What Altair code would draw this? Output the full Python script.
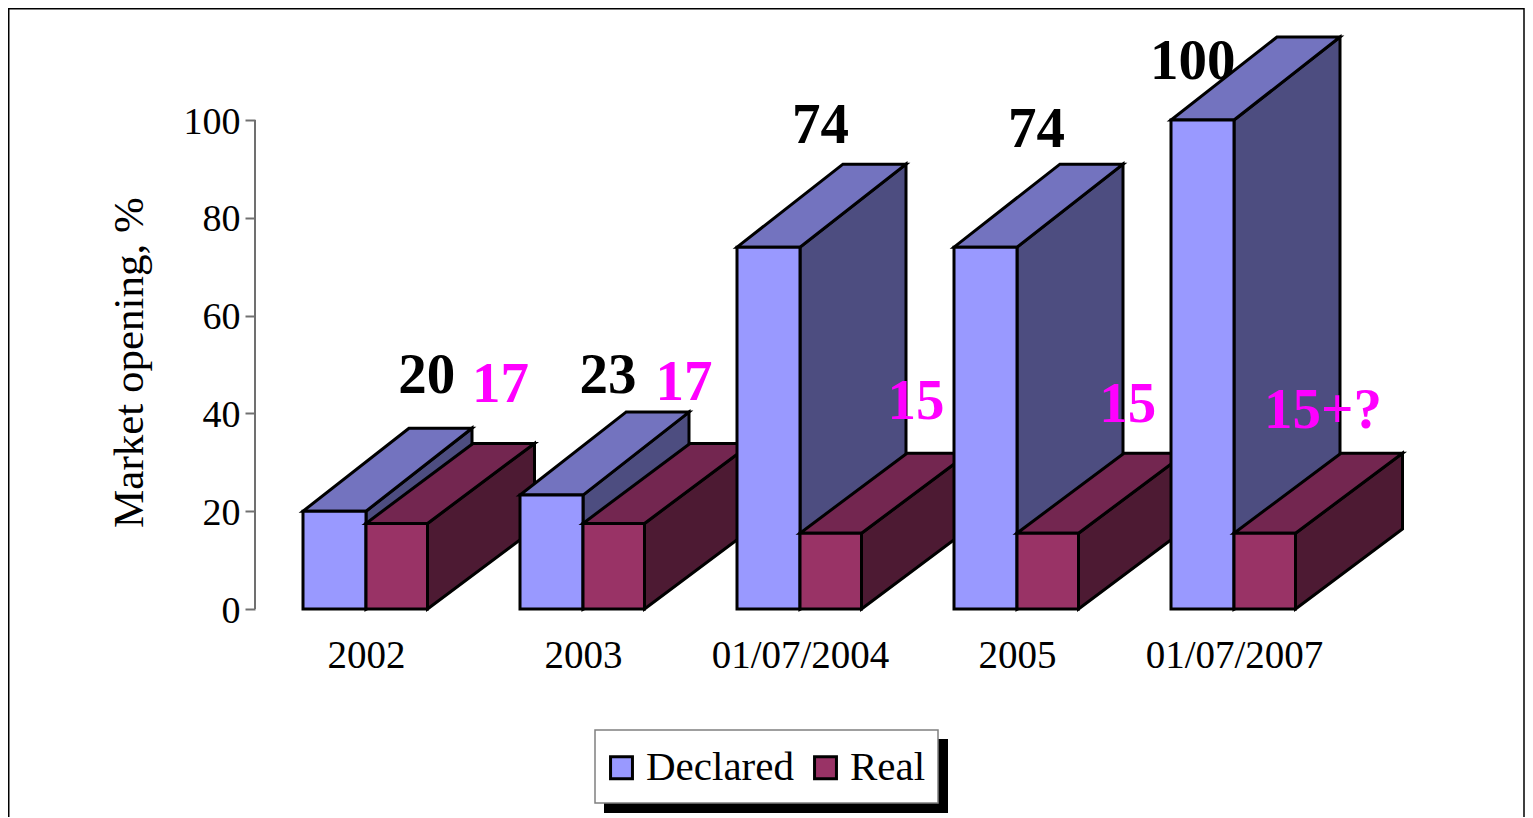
import altair as alt
import pandas as pd

# ---- data
categories = ["2002", "2003", "01/07/2004", "2005", "01/07/2007"]
declared = [20, 23.3, 74, 74, 100]
real = [17.5, 17.5, 15.5, 15.5, 15.5]
declared_labels = ["20", "23", "74", "74", "100"]
real_labels = ["17", "17", "15", "15", "15+?"]
y_ticks = [0, 20, 40, 60, 80, 100]

# ---- label placement (category units from the category centre / value units)
declared_label_dx = [0.28, 0.115, 0.095, 0.09, -0.19]
declared_label_y = [47.6, 47.6, 98.8, 98.0, 111.9]
real_label_dx = [0.62, 0.465, 0.535, 0.51, 0.41]
real_label_y = [45.8, 46.2, 42.3, 41.7, 40.5]

# ---- geometry of the 3-D look, in scale units
BAR_W = {"Declared": 63 / 217, "Real": 61.5 / 217}
DEPTH_X = {"Declared": 106 / 217, "Real": 107 / 217}
DEPTH_Y = {"Declared": 83 / 4.89, "Real": 80 / 4.89}

# ---- layout
PAD_L, PAD_T, W, H = 247, 22, 1155, 579
TOTAL_W, TOTAL_H = 1517, 809
PX_PER_CAT, PX_PER_VAL = 217, 4.89
FONT = "Liberation Serif"

FILL = {"Declared": ("#9999FF", "#4D4D80", "#7373BF"),
        "Real": ("#993366", "#4D1A33", "#732650")}

xscale = alt.Scale(domain=[-111 / PX_PER_CAT, (W - 111) / PX_PER_CAT], nice=False, zero=False)
yscale = alt.Scale(domain=[0, H / PX_PER_VAL], nice=False, zero=False)
color = alt.Color(
    "series:N",
    scale=alt.Scale(domain=["Declared", "Real"], range=[FILL["Declared"][0], FILL["Real"][0]]),
    legend=alt.Legend(
        title=None, orient="none", direction="horizontal", columns=2,
        legendX=331, legendY=702, padding=15,
        symbolType="square", symbolSize=480, symbolStrokeColor="black", symbolStrokeWidth=3,
        symbolOpacity=1,
        labelFont=FONT, labelFontSize=41, labelColor="black", labelOffset=4,
        columnPadding=11, labelLimit=300,
    ),
)

x_axis = alt.Axis(
    values=list(range(len(categories))),
    labelExpr="[" + ",".join(f"'{c}'" for c in categories) + "][datum.value]",
    title=None, domain=False, ticks=False, grid=False,
    labelFont=FONT, labelFontSize=39, labelColor="black",
    labelPadding=46, labelBaseline="middle", labelOverlap=False, labelFlush=False,
    labelAngle=0,
)
y_axis = alt.Axis(
    values=y_ticks, title="Market opening, %", domain=False, grid=False,
    tickSize=10, tickColor="#707070", tickWidth=2,
    labelFont=FONT, labelFontSize=38, labelColor="black", labelPadding=5, labelFlush=False,
    labelOverlap=False, labelOffset=2,
    titleFont=FONT, titleFontSize=43, titleFontWeight="normal", titleColor="black",
    titleX=-104, titleY=332,
)


def X(field="x"):
    return alt.X(f"{field}:Q", scale=xscale, axis=x_axis)


def Y(field="y"):
    return alt.Y(f"{field}:Q", scale=yscale, axis=y_axis)


def bar_layers(i, value, series):
    front, side, top = FILL[series]
    width = BAR_W[series]
    left = i - width if series == "Declared" else i
    right = left + width
    dx, dy = DEPTH_X[series], DEPTH_Y[series]
    side_df = pd.DataFrame({"x": [right, right + dx],
                            "y": [0, dy],
                            "y2": [value, value + dy]})
    top_df = pd.DataFrame({"x": [left, left + dx],
                           "x2": [right, right + dx],
                           "y": [value, value + dy]})
    front_df = pd.DataFrame({"x": [left], "x2": [right], "y": [0], "y2": [value], "series": [series]})
    style = dict(stroke="black", strokeWidth=3, strokeJoin="miter", opacity=1)
    return [
        alt.Chart(side_df).mark_area(color=side, interpolate="linear", **style).encode(
            x=X(), y=Y(), y2="y2:Q"),
        alt.Chart(top_df).mark_area(color=top, orient="horizontal", interpolate="linear", **style).encode(
            y=Y(), x=X(), x2="x2:Q"),
        alt.Chart(front_df).mark_rect(**style).encode(
            x=X(), x2="x2:Q", y=Y(), y2="y2:Q", color=color),
    ]


axis_df = pd.DataFrame({"x": [0.0], "y": [0], "y2": [100]})
frame = alt.Chart(axis_df).mark_rect(filled=False, stroke="black", strokeWidth=1.5).encode(
    x=alt.value(-PAD_L + 0.75), x2=alt.value(TOTAL_W - PAD_L - 1),
    y=alt.value(-PAD_T + 0.75), y2=alt.value(H + 400),
)
axis_line = alt.Chart(axis_df).mark_rule(color="#707070", strokeWidth=2).encode(
    x=alt.value(0),
    y=Y(),
    y2="y2:Q",
)
shadow = alt.Chart(axis_df).mark_rect(color="black").encode(
    x=alt.value(604 - 255), x2=alt.value(948 - 255),
    y=alt.value(739 - 30), y2=alt.value(813 - 30),
)
legend_box = alt.Chart(axis_df).mark_rect(color="white", stroke="#808080", strokeWidth=1.5).encode(
    x=alt.value(595 - 255), x2=alt.value(938 - 255),
    y=alt.value(730 - 30), y2=alt.value(803 - 30),
)


def label_layer(texts, dxs, ys, colour):
    df = pd.DataFrame({
        "x": [i + d for i, d in enumerate(dxs)],
        "y": ys,
        "t": texts,
    })
    return alt.Chart(df).mark_text(
        font=FONT, fontSize=57, fontWeight="bold", color=colour, baseline="middle", align="center"
    ).encode(x=X(), y=Y(), text="t:N")


layers = [frame, axis_line, label_layer(declared_labels, declared_label_dx, declared_label_y, "black")]
for i in range(len(categories)):
    layers += bar_layers(i, declared[i], "Declared")
    layers += bar_layers(i, real[i], "Real")
layers += [label_layer(real_labels, real_label_dx, real_label_y, "#FF00FF"), shadow, legend_box]

chart = alt.layer(*layers).properties(
    width=W, height=H,
    padding={"left": PAD_L, "top": PAD_T, "right": TOTAL_W - PAD_L - W, "bottom": TOTAL_H - PAD_T - H},
    autosize=alt.AutoSizeParams(type="none"),
    background="white",
).configure_view(stroke=None)

chart.save("out.html", embed_options={"renderer": "svg", "actions": False})
